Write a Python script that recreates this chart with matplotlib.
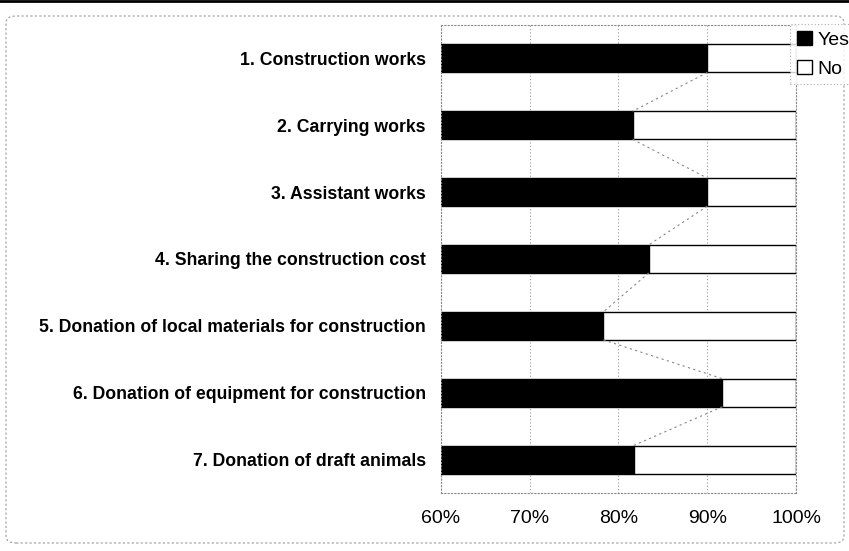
import matplotlib.pyplot as plt
from matplotlib.patches import FancyBboxPatch, Patch
from matplotlib.lines import Line2D
from matplotlib.ticker import FuncFormatter

plt.rcParams['font.family'] = ['Liberation Sans', 'DejaVu Sans']

categories = [
    "1. Construction works",
    "2. Carrying works",
    "3. Assistant works",
    "4. Sharing the construction cost",
    "5. Donation of local materials for construction",
    "6. Donation of equipment for construction",
    "7. Donation of draft animals",
]
yes_pct = [90.0, 81.6, 90.0, 83.4, 78.3, 91.7, 81.7]
no_pct = [100 - v for v in yes_pct]

fig = plt.figure(figsize=(8.49, 5.51), dpi=100)
ax = fig.add_axes([0.5194, 0.1053, 0.4182, 0.8493])

ypos = list(range(len(categories)))
bar_h = 0.42
ax.barh(ypos, yes_pct, height=bar_h, color='black', edgecolor='black', lw=1, label='Yes')
ax.barh(ypos, no_pct, left=yes_pct, height=bar_h, color='white', edgecolor='black', lw=1, label='No')

# series lines between the ends of the "Yes" segments
for i in range(len(yes_pct) - 1):
    ax.plot([yes_pct[i], yes_pct[i + 1]], [ypos[i] + bar_h / 2, ypos[i + 1] - bar_h / 2],
            color='#888888', lw=0.8, ls=(0, (2, 3)), zorder=1)

ax.set_xlim(60, 100)
ax.set_ylim(len(categories) - 0.5, -0.5)
ax.set_xticks([60, 70, 80, 90, 100])
ax.xaxis.set_major_formatter(FuncFormatter(lambda v, p: f"{v:.0f}%"))
ax.set_yticks(ypos)
ax.set_yticklabels(categories, fontsize=12.7, fontweight='bold')
ax.tick_params(axis='x', labelsize=14, length=0, pad=12)
ax.tick_params(axis='y', length=0, pad=11)
ax.xaxis.grid(True, color='#999999', ls=(0, (1, 2)), lw=0.8)
ax.set_axisbelow(True)
for s in ax.spines.values():
    s.set_color('#888888')
    s.set_linestyle((0, (1, 2)))
    s.set_linewidth(0.8)

handles = [Patch(facecolor='black', edgecolor='black', label='Yes'),
           Patch(facecolor='white', edgecolor='black', label='No')]
leg = fig.legend(handles=handles, loc='upper left', bbox_to_anchor=(0.931, 0.956),
                 fontsize=14, frameon=True, handlelength=0.75, handleheight=0.75,
                 handletextpad=0.3, borderpad=0.35, labelspacing=0.55, fancybox=False,
                 borderaxespad=0)
leg.get_frame().set_edgecolor('#999999')
leg.get_frame().set_linestyle((0, (1, 2)))
leg.get_frame().set_linewidth(0.8)

# chart frame
frame = FancyBboxPatch((6 / 849, 8 / 551), 838 / 849, 527 / 551,
                       boxstyle='round,pad=0,rounding_size=0.012',
                       transform=fig.transFigure, fill=False,
                       edgecolor='#999999', lw=0.8, ls=(0, (2, 2)))
fig.patches.append(frame)
fig.add_artist(Line2D([0, 1], [0.998, 0.998], color='black', lw=2, transform=fig.transFigure))

fig.savefig('out.png', dpi=100)
